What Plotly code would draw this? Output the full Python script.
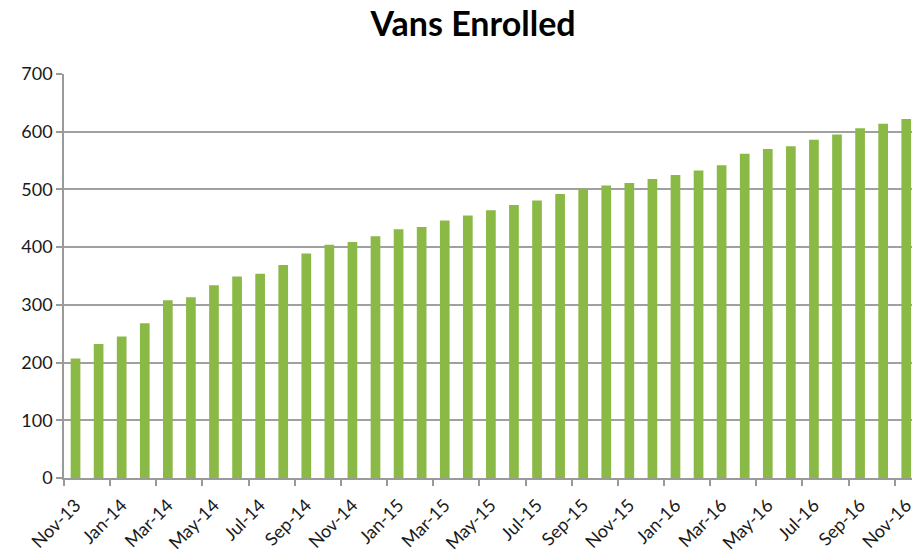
import plotly.graph_objects as go

months = ["Nov-13","Dec-13","Jan-14","Feb-14","Mar-14","Apr-14","May-14","Jun-14","Jul-14","Aug-14",
          "Sep-14","Oct-14","Nov-14","Dec-14","Jan-15","Feb-15","Mar-15","Apr-15","May-15","Jun-15",
          "Jul-15","Aug-15","Sep-15","Oct-15","Nov-15","Dec-15","Jan-16","Feb-16","Mar-16","Apr-16",
          "May-16","Jun-16","Jul-16","Aug-16","Sep-16","Oct-16","Nov-16"]
vans = [207, 232, 245, 268, 308, 313, 334, 349, 354, 369,
        389, 404, 409, 419, 431, 435, 446, 455, 464, 473,
        481, 492, 501, 507, 511, 518, 525, 533, 542, 562,
        570, 575, 586, 595, 606, 614, 622]
y_ticks = [0, 100, 200, 300, 400, 500, 600, 700]

idx = list(range(len(months)))
label_idx = idx[::2]
label_txt = months[::2]

fig = go.Figure(go.Bar(
    x=idx, y=vans,
    marker=dict(color="#8BB946", line=dict(width=0)),
    width=0.42,
    hoverinfo="x+y",
))

font_family = "Lato, Carlito, 'Open Sans', sans-serif"

fig.update_layout(
    width=915, height=557,
    margin=dict(l=64, r=0, t=74, b=79),
    paper_bgcolor="white", plot_bgcolor="white",
    showlegend=False,
    title=dict(text="<b>Vans Enrolled</b>", x=0.517, xanchor="center",
               y=0.956, yanchor="middle",
               font=dict(family=font_family, size=34, color="#000000")),
    font=dict(family=font_family, color="#1a1a1a"),
)

fig.update_xaxes(
    range=[-0.5, 36.25],
    tickmode="array", tickvals=label_idx, ticktext=label_txt,
    tickangle=-45, ticks="", ticklen=0,
    ticklabelstandoff=8, ticklabeloverflow="allow",
    tickfont=dict(size=18, color="#1a1a1a", family=font_family),
    showgrid=False, zeroline=False,
    showline=True, linecolor="#9a9a9a", linewidth=1.5,
    minor=dict(tick0=-0.5, dtick=2, ticks="outside", ticklen=6,
               tickcolor="#9a9a9a", tickwidth=1.5, showgrid=False),
)

fig.update_yaxes(
    range=[0, 700],
    tickmode="array", tickvals=y_ticks,
    ticks="outside", ticklen=6, tickcolor="#9a9a9a", tickwidth=1.5,
    tickfont=dict(size=18, color="#1a1a1a", family=font_family),
    showgrid=True, gridcolor="#a0a0a0", gridwidth=1.5,
    zeroline=False,
    showline=True, linecolor="#9a9a9a", linewidth=1.5,
)

fig.write_html(
    "out.html",
    config={"displayModeBar": False},
    post_script="document.body.style.margin='0';document.body.style.overflow='hidden';",
)
